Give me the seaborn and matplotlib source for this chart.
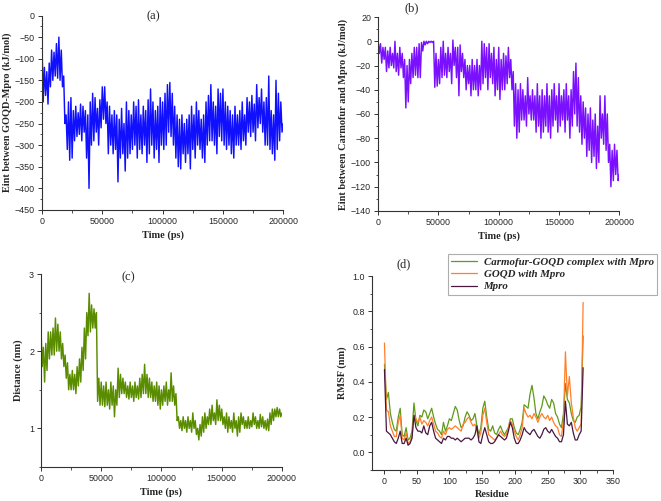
import numpy as np
import pandas as pd
import matplotlib
matplotlib.use("Agg")
import matplotlib.pyplot as plt
from matplotlib.ticker import MultipleLocator
import seaborn as sns

sns.set_theme(style="white")
plt.rcParams['font.family'] = ['Liberation Sans', 'DejaVu Sans']

# ---------------- data ----------------
# time bins (ps) every 2000 ps; each bin gives the upper and lower extent of the trace
time_step = 2000
time_end = 200000

# (a) Eint between GOQD-Mpro (kJ/mol)
a_hi = [-60, -120, -130, -110, -80, -85, -65, -50, -80, -140,
        -230, -200, -190, -220, -210, -225, -205, -210, -220, -230,
        -200, -180, -190, -215, -195, -165, -165, -200, -210, -230,
        -220, -230, -240, -215, -250, -200, -220, -230, -200, -210,
        -195, -230, -210, -220, -195, -170, -200, -220, -210, -190,
        -200, -180, -160, -155, -180, -210, -230, -240, -230, -250,
        -240, -230, -210, -230, -200, -220, -240, -230, -200, -185,
        -160, -200, -210, -170, -180, -170, -200, -210, -220, -230,
        -210, -230, -220, -200, -230, -190, -200, -185, -205, -160,
        -190, -170, -200, -190, -140, -220, -230, -150, -180, -200]
a_lo = [-200, -185, -205, -165, -150, -140, -145, -150, -165, -250,
        -310, -335, -330, -290, -280, -275, -290, -270, -330, -400,
        -300, -290, -270, -300, -260, -240, -250, -320, -300, -320,
        -310, -385, -330, -320, -360, -330, -320, -310, -300, -330,
        -310, -320, -300, -340, -320, -300, -330, -310, -340, -300,
        -310, -300, -270, -280, -300, -330, -350, -355, -320, -340,
        -320, -355, -310, -330, -300, -310, -330, -340, -300, -290,
        -290, -300, -320, -280, -290, -300, -310, -300, -320, -330,
        -300, -300, -310, -290, -300, -270, -280, -270, -290, -260,
        -250, -270, -300, -300, -310, -320, -335, -310, -290, -270]
a_last = -250

# (b) Eint between Carmofur and Mpro (kJ/mol)
b_hi = [0, -2, -5, -5, -8, -5, -10, 0, -10, -5,
        -10, -15, -20, -15, -10, -5, -5, -2, -1, 0,
        0, 0, 0, 0, -10, -15, -5, 0, -10, -5,
        -10, 1, -5, -5, -3, -10, -15, -20, -20, -15,
        -20, -15, -20, 0, -2, -5, -2, -10, -5, -15,
        -5, -15, -10, -12, -5, -15, -25, -35, -40, -35,
        -40, -45, -30, -45, -40, -45, -35, -45, -40, -45,
        -35, -45, -40, -35, -45, -35, -45, -40, -35, -45,
        -40, -25, -18, -30, -45, -50, -55, -60, -55, -65,
        -60, -70, -45, -60, -45, -60, -85, -90, -85, -90]
b_lo = [-10, -18, -15, -25, -22, -20, -22, -25, -28, -22,
        -30, -55, -50, -35, -30, -28, -30, -30, -8, -3,
        -2, -1, -1, -38, -37, -35, -30, -28, -30, -25,
        -35, -20, -30, -45, -25, -30, -40, -35, -45, -40,
        -40, -45, -40, -35, -30, -40, -30, -35, -45, -40,
        -48, -40, -40, -35, -30, -40, -70, -80, -75, -65,
        -65, -70, -60, -65, -65, -75, -70, -80, -75, -70,
        -75, -80, -70, -65, -75, -70, -65, -75, -65, -80,
        -70, -60, -70, -75, -85, -80, -95, -90, -100, -95,
        -105, -100, -80, -85, -90, -100, -120, -115, -110, -115]
b_last = -110

# (c) Distance (nm)
c_hi = [2.30, 2.05, 2.10, 2.25, 2.25, 2.30, 2.43, 2.35, 2.25, 2.10,
        1.95, 1.85, 1.70, 1.75, 1.70, 1.80, 1.90, 2.05, 2.30, 2.50,
        2.75, 2.60, 2.55, 2.50, 1.65, 1.60, 1.55, 1.60, 1.50, 1.60,
        1.55, 1.50, 1.78, 1.70, 1.65, 1.60, 1.55, 1.60, 1.55, 1.60,
        1.55, 1.65, 1.70, 1.83, 1.70, 1.65, 1.60, 1.55, 1.60, 1.55,
        1.50, 1.55, 1.60, 1.50, 1.72, 1.55, 1.45, 1.15, 1.10, 1.15,
        1.10, 1.15, 1.10, 1.20, 1.10, 1.00, 1.05, 1.15, 1.20, 1.15,
        1.25, 1.30, 1.20, 1.37, 1.30, 1.25, 1.15, 1.20, 1.15, 1.10,
        1.20, 1.10, 1.15, 1.20, 1.15, 1.10, 1.15, 1.10, 1.20, 1.15,
        1.10, 1.18, 1.15, 1.10, 1.12, 1.20, 1.25, 1.25, 1.27, 1.25]
c_lo = [1.80, 1.60, 1.75, 1.90, 1.95, 1.95, 2.00, 2.00, 1.90, 1.80,
        1.65, 1.50, 1.50, 1.50, 1.45, 1.55, 1.60, 1.75, 1.90, 2.20,
        2.25, 2.30, 2.30, 1.35, 1.30, 1.30, 1.28, 1.30, 1.25, 1.30,
        1.15, 1.30, 1.40, 1.45, 1.45, 1.40, 1.38, 1.40, 1.35, 1.40,
        1.38, 1.40, 1.45, 1.45, 1.40, 1.40, 1.35, 1.35, 1.30, 1.25,
        1.30, 1.35, 1.30, 1.35, 1.35, 1.30, 1.10, 1.00, 0.97, 1.00,
        0.95, 1.00, 0.95, 1.00, 0.92, 0.85, 0.90, 0.95, 1.00, 1.05,
        1.05, 1.10, 1.05, 1.10, 1.10, 1.05, 1.00, 0.95, 1.00, 0.95,
        1.00, 0.90, 0.95, 1.05, 1.00, 1.00, 1.00, 1.02, 1.05, 1.00,
        1.00, 1.02, 1.00, 0.98, 0.97, 1.05, 1.10, 1.15, 1.15, 1.15]
c_last = 1.20

# (d) RMSF (nm), residues 1, 4, 7, ... 304
residue_start, residue_stop, residue_step = 1, 305, 3
rmsf_complex = [0.50, 0.30, 0.34, 0.22, 0.17, 0.13, 0.12, 0.20, 0.25, 0.10,
                0.09, 0.14, 0.07, 0.08, 0.12, 0.28, 0.18, 0.15, 0.21, 0.20,
                0.24, 0.23, 0.19, 0.22, 0.25, 0.20, 0.16, 0.13, 0.12, 0.10,
                0.17, 0.12, 0.15, 0.19, 0.18, 0.22, 0.26, 0.24, 0.18, 0.14,
                0.15, 0.20, 0.23, 0.21, 0.18, 0.19, 0.22, 0.15, 0.10, 0.14,
                0.25, 0.29, 0.20, 0.13, 0.12, 0.15, 0.11, 0.10, 0.13, 0.15,
                0.12, 0.10, 0.12, 0.14, 0.19, 0.19, 0.14, 0.11, 0.10, 0.13,
                0.17, 0.27, 0.26, 0.25, 0.33, 0.38, 0.31, 0.22, 0.19, 0.23,
                0.26, 0.32, 0.30, 0.27, 0.25, 0.30, 0.28, 0.22, 0.20, 0.16,
                0.14, 0.22, 0.39, 0.30, 0.28, 0.22, 0.18, 0.17, 0.20, 0.21,
                0.26, 0.66]
rmsf_goqd = [0.62, 0.24, 0.23, 0.15, 0.12, 0.09, 0.09, 0.17, 0.21, 0.08,
             0.07, 0.11, 0.05, 0.06, 0.09, 0.21, 0.19, 0.17, 0.20, 0.16,
             0.18, 0.17, 0.15, 0.18, 0.20, 0.16, 0.12, 0.11, 0.09, 0.08,
             0.12, 0.10, 0.13, 0.14, 0.13, 0.14, 0.15, 0.14, 0.13, 0.12,
             0.16, 0.17, 0.19, 0.20, 0.17, 0.15, 0.16, 0.12, 0.08, 0.11,
             0.21, 0.25, 0.17, 0.10, 0.09, 0.08, 0.07, 0.08, 0.10, 0.12,
             0.10, 0.09, 0.10, 0.14, 0.18, 0.16, 0.12, 0.09, 0.07, 0.10,
             0.14, 0.25, 0.22, 0.20, 0.21, 0.19, 0.22, 0.20, 0.17, 0.20,
             0.22, 0.20, 0.19, 0.21, 0.18, 0.20, 0.17, 0.15, 0.14, 0.10,
             0.09, 0.18, 0.57, 0.32, 0.43, 0.28, 0.20, 0.14, 0.12, 0.14,
             0.16, 0.85]
rmsf_mpro = [0.47, 0.12, 0.11, 0.10, 0.08, 0.06, 0.05, 0.08, 0.12, 0.05,
             0.05, 0.08, 0.04, 0.05, 0.08, 0.21, 0.14, 0.12, 0.12, 0.11,
             0.15, 0.11, 0.10, 0.15, 0.17, 0.12, 0.08, 0.07, 0.06, 0.05,
             0.08, 0.07, 0.09, 0.09, 0.08, 0.08, 0.07, 0.08, 0.07, 0.06,
             0.07, 0.08, 0.08, 0.08, 0.07, 0.08, 0.10, 0.15, 0.06, 0.05,
             0.10, 0.14, 0.10, 0.06, 0.05, 0.05, 0.06, 0.08, 0.10, 0.09,
             0.08, 0.07, 0.08, 0.12, 0.17, 0.14, 0.08, 0.05, 0.05, 0.07,
             0.10, 0.14, 0.12, 0.11, 0.10, 0.12, 0.13, 0.11, 0.09, 0.08,
             0.10, 0.13, 0.14, 0.12, 0.11, 0.13, 0.11, 0.09, 0.08, 0.06,
             0.06, 0.10, 0.29, 0.16, 0.15, 0.17, 0.11, 0.07, 0.07, 0.10,
             0.12, 0.48]
rmsf_labels = ["Carmofur-GOQD complex with Mpro", "GOQD with Mpro", "Mpro"]


def trace(hi, lo, last):
    bins = np.arange(0, time_end, time_step)
    t = np.empty(2 * len(bins) + 1)
    v = np.empty(2 * len(bins) + 1)
    t[0:-1:2] = bins
    t[1:-1:2] = bins + time_step / 2
    v[0:-1:2] = hi
    v[1:-1:2] = lo
    t[-1] = time_end
    v[-1] = last
    return pd.DataFrame({"t": t, "v": v})


# ---------------- figure ----------------
fig = plt.figure(figsize=(6.61, 5.01), dpi=100)
serif = ['Liberation Serif', 'DejaVu Serif']
tick_fs = 6.4
lab_fs = 7.4
trace_lw = 1.05


def style(ax):
    for s in ["top", "right"]:
        ax.spines[s].set_visible(False)
    for s in ["left", "bottom"]:
        ax.spines[s].set_color("#333333")
        ax.spines[s].set_linewidth(0.8)
    ax.tick_params(which="major", direction="out", length=3, width=0.7,
                   labelsize=tick_fs, color="#333333", left=True, bottom=True, pad=2)
    ax.tick_params(which="minor", direction="out", length=1.8, width=0.6,
                   color="#333333", left=True, bottom=True)
    ax.grid(False)
    ax.set_facecolor("white")


# (a)
ax_a = fig.add_axes([0.0635, 0.581, 0.365, 0.388])
da = trace(a_hi, a_lo, a_last)
sns.lineplot(data=da, x="t", y="v", ax=ax_a, color="#1010ff", lw=trace_lw,
             sort=False, estimator=None)
ax_a.set_xlim(0, 200000)
ax_a.set_ylim(-450, 0)
ax_a.xaxis.set_major_locator(MultipleLocator(50000))
ax_a.xaxis.set_minor_locator(MultipleLocator(25000))
ax_a.yaxis.set_major_locator(MultipleLocator(50))
ax_a.yaxis.set_minor_locator(MultipleLocator(25))
ax_a.set_xlabel("Time (ps)", family=serif, weight="bold", fontsize=lab_fs, labelpad=3)
ax_a.set_ylabel("Eint between GOQD-Mpro (kJ/mol)", family=serif, weight="bold",
                fontsize=lab_fs, labelpad=2)
style(ax_a)
fig.text(153 / 661, 1 - 16 / 501, "(a)", family=serif, fontsize=9, ha="center", va="center")

# (b)
ax_b = fig.add_axes([0.572, 0.579, 0.365, 0.387])
db = trace(b_hi, b_lo, b_last)
sns.lineplot(data=db, x="t", y="v", ax=ax_b, color="#7a10ff", lw=trace_lw,
             sort=False, estimator=None)
ax_b.set_xlim(0, 200000)
ax_b.set_ylim(-140, 20)
ax_b.xaxis.set_major_locator(MultipleLocator(50000))
ax_b.xaxis.set_minor_locator(MultipleLocator(25000))
ax_b.yaxis.set_major_locator(MultipleLocator(20))
ax_b.yaxis.set_minor_locator(MultipleLocator(10))
ax_b.set_xlabel("Time (ps)", family=serif, weight="bold", fontsize=lab_fs, labelpad=3)
ax_b.set_ylabel("Eint between Carmofur and Mpro (kJ/mol)", family=serif, weight="bold",
                fontsize=lab_fs, labelpad=2)
style(ax_b)
fig.text(412 / 661, 1 - 8 / 501, "(b)", family=serif, fontsize=9, ha="center", va="center")

# (c)
ax_c = fig.add_axes([0.062, 0.068, 0.3646, 0.385])
dc = trace(c_hi, c_lo, c_last)
sns.lineplot(data=dc, x="t", y="v", ax=ax_c, color="#5a8c00", lw=trace_lw,
             sort=False, estimator=None)
ax_c.set_xlim(0, 200000)
ax_c.set_ylim(0.5, 3)
ax_c.xaxis.set_major_locator(MultipleLocator(50000))
ax_c.xaxis.set_minor_locator(MultipleLocator(25000))
ax_c.yaxis.set_major_locator(MultipleLocator(1))
ax_c.yaxis.set_minor_locator(MultipleLocator(0.5))
ax_c.set_xlabel("Time (ps)", family=serif, weight="bold", fontsize=lab_fs, labelpad=3)
ax_c.set_ylabel("Distance (nm)", family=serif, weight="bold", fontsize=lab_fs, labelpad=4)
style(ax_c)
fig.text(128 / 661, 1 - 277 / 501, "(c)", family=serif, fontsize=9, ha="center", va="center")

# (d)
ax_d = fig.add_axes([0.5628, 0.062, 0.365, 0.387])
res = np.arange(residue_start, residue_stop, residue_step)
dd = pd.DataFrame({
    "Residue": np.concatenate([res, res, res]),
    "RMSF": np.concatenate([rmsf_complex, rmsf_goqd, rmsf_mpro]),
    "System": np.repeat(rmsf_labels, len(res)),
})
palette = {rmsf_labels[0]: "#5f9a1a", rmsf_labels[1]: "#ff7f2a", rmsf_labels[2]: "#4a1740"}
sns.lineplot(data=dd, x="Residue", y="RMSF", hue="System", palette=palette,
             ax=ax_d, lw=0.9, estimator=None, legend=True)
ax_d.set_xlim(-18, 350)
ax_d.set_ylim(-0.1, 1.0)
ax_d.xaxis.set_major_locator(MultipleLocator(50))
ax_d.xaxis.set_minor_locator(MultipleLocator(25))
ax_d.yaxis.set_major_locator(MultipleLocator(0.2))
ax_d.yaxis.set_minor_locator(MultipleLocator(0.1))
ax_d.set_xlabel("Residue", family=serif, weight="bold", fontsize=lab_fs, labelpad=3)
ax_d.set_ylabel("RMSF (nm)", family=serif, weight="bold", fontsize=lab_fs, labelpad=4)
style(ax_d)
handles, labels = ax_d.get_legend_handles_labels()
ax_d.legend_.remove()
leg = fig.legend(handles, labels, loc="upper right",
                 bbox_to_anchor=(657 / 661, 1 - 254 / 501),
                 prop={"family": serif, "weight": "bold", "style": "italic", "size": 7.8},
                 frameon=True, fancybox=False, edgecolor="#999999",
                 handlelength=2.4, handletextpad=0.6, borderpad=0.3, labelspacing=0.25,
                 borderaxespad=0)
leg.get_frame().set_linewidth(0.8)
fig.text(404 / 661, 1 - 264 / 501, "(d)", family=serif, fontsize=9, ha="center", va="center")

fig.savefig("out.png", dpi=100, facecolor="white")
